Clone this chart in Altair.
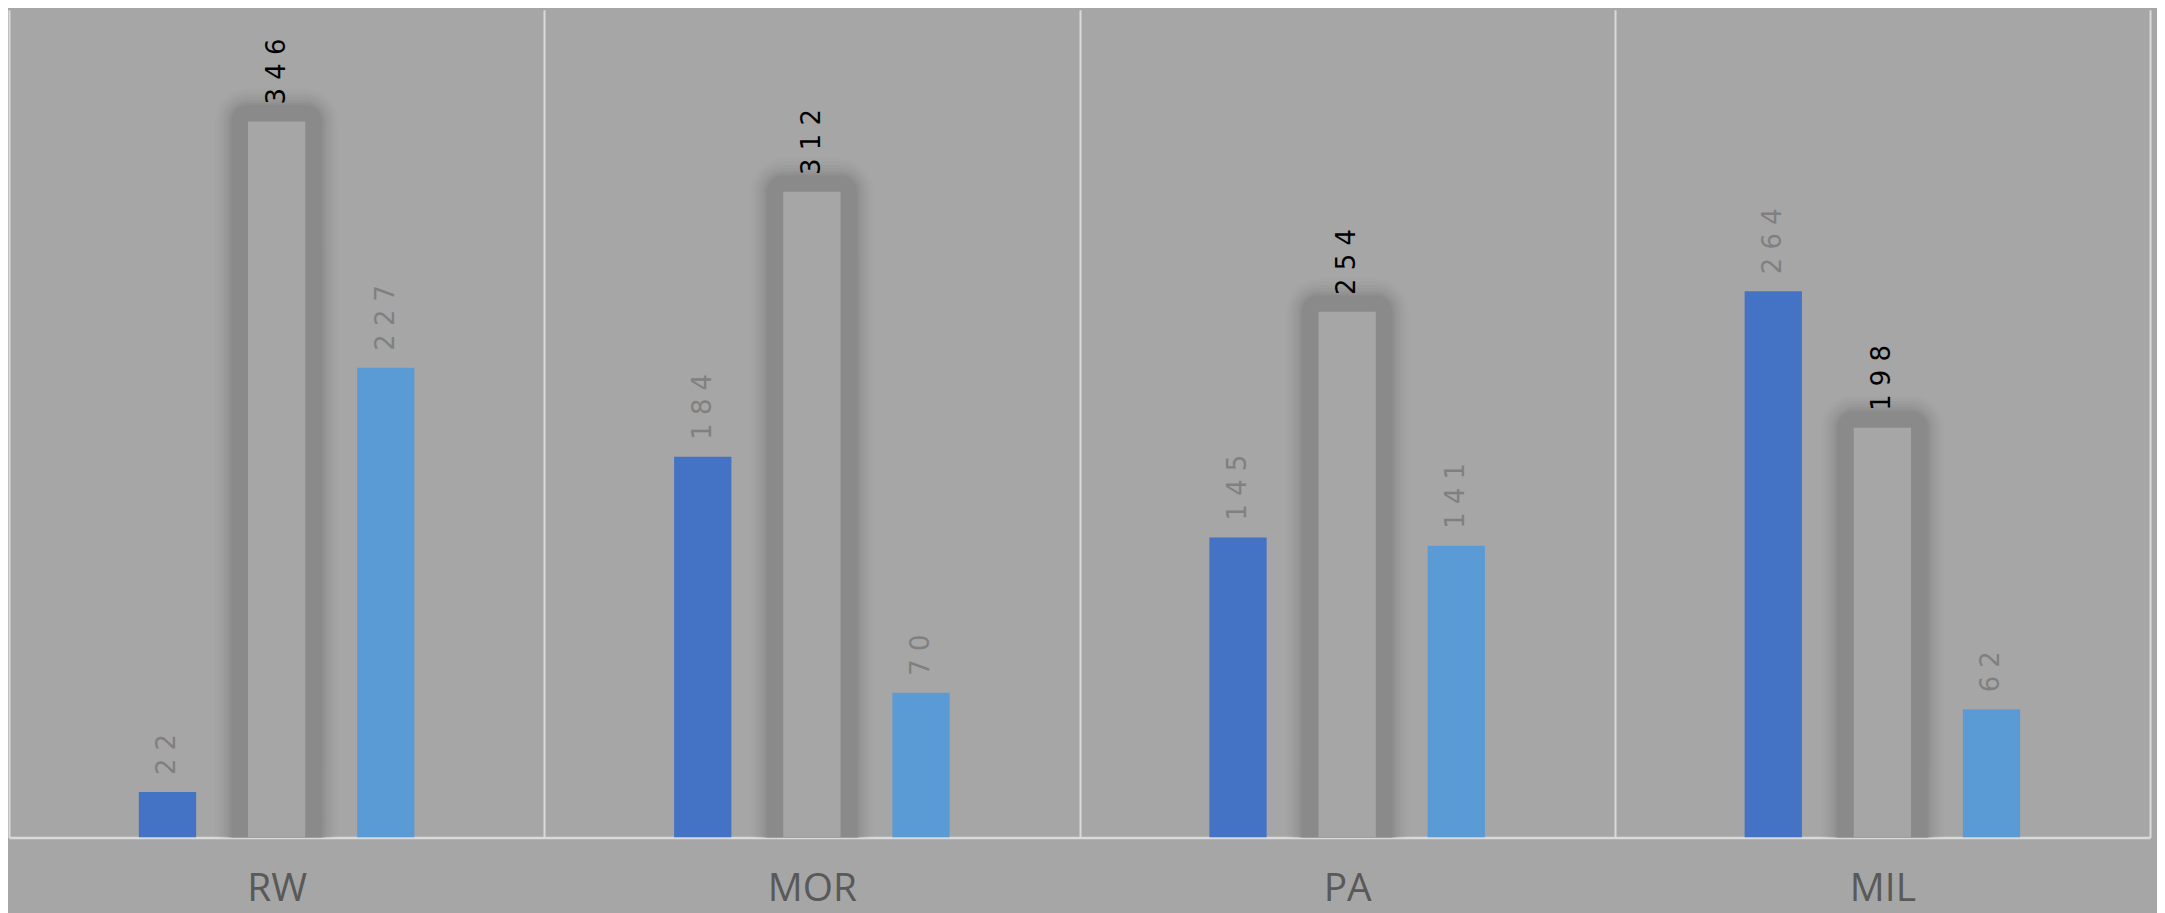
import altair as alt
import pandas as pd

categories = ["RW", "MOR", "PA", "MIL"]
series = ["S1", "S2", "S3"]
s1_values = [22, 184, 145, 264]
s2_values = [346, 312, 254, 198]
s3_values = [227, 70, 141, 62]

rows = []
for i, c in enumerate(categories):
    for s, vals in zip(series, [s1_values, s2_values, s3_values]):
        v = vals[i]
        rows.append({"cat": c, "series": s, "value": v, "label": " ".join(str(v))})
df = pd.DataFrame(rows)

offset_domain = ["_padL"] + series + ["_padR"]

x_axis = alt.Axis(
    title=None, labelFont="Open Sans", labelFontSize=39, labelColor="#595959",
    labelAngle=0, labelPadding=51, labelBaseline="middle", ticks=False, tickSize=0,
    domain=True, domainColor="#dadada", domainWidth=2.5,
    grid=True, gridColor="#dadada", gridWidth=2, tickBand="extent",
)
X = alt.X("cat:N", sort=categories, scale=alt.Scale(paddingInner=0, paddingOuter=0), axis=x_axis)
XO = alt.XOffset("series:N", scale=alt.Scale(domain=offset_domain, paddingInner=0.475, paddingOuter=0.19))
Y = alt.Y("value:Q", scale=alt.Scale(domain=[0, 400], nice=False, zero=True), axis=None)

base = alt.Chart(df)
mid = base.transform_filter(alt.datum.series == "S2")
side = base.transform_filter(alt.datum.series != "S2")

glow_layers = []
for sw, op in [(66, 0.07), (60, 0.1), (54, 0.14), (48, 0.2), (42, 0.3), (37, 0.5), (33, 1.0)]:
    glow_layers.append(
        mid.mark_bar(fillOpacity=0, stroke="#8a8a8a", strokeWidth=sw, strokeOpacity=op,
                     strokeJoin="round", clip=True).encode(x=X, xOffset=XO, y=Y)
    )

mid_fill = mid.mark_bar(color="#a6a6a6", clip=True).encode(x=X, xOffset=XO, y=Y)

side_bars = side.mark_bar(clip=True).encode(
    x=X, xOffset=XO, y=Y,
    color=alt.Color("series:N", scale=alt.Scale(domain=["S1", "S3"], range=["#4472C4", "#5B9BD5"]), legend=None),
)

side_text = side.mark_text(angle=270, align="left", baseline="middle", dx=17,
                           font="DejaVu Sans", fontSize=26, color="#808080").encode(
    x=X, xOffset=XO, y=Y, text="label:N")
mid_text = mid.mark_text(angle=270, align="left", baseline="middle", dx=17,
                         font="DejaVu Sans", fontSize=26, color="#000000").encode(
    x=X, xOffset=XO, y=Y, text="label:N")

chart = alt.layer(*glow_layers, mid_fill, side_bars, side_text, mid_text).properties(
    width=2149, height=831,
    background="#a6a6a6",
    padding={"left": 1, "top": 0, "right": 7, "bottom": 74},
    autosize=alt.AutoSizeParams(type="none"),
).configure_view(stroke=None)

chart.save("out.html", embed_options={"renderer": "svg", "actions": False})
